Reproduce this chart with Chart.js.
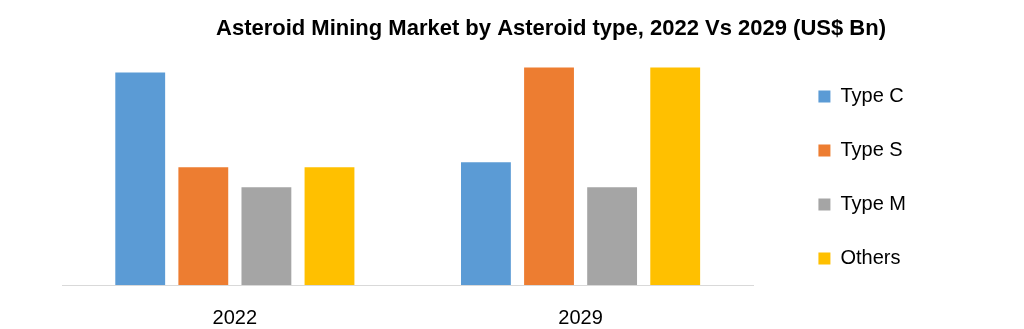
<!DOCTYPE html>
<html>
<head>
<meta charset="utf-8">
<script src="https://cdn.jsdelivr.net/npm/chart.js@4.4.1/dist/chart.umd.min.js"></script>
<style>
  html, body { margin: 0; padding: 0; background: #fff; }
  #wrap { width: 1024px; height: 329px; }
</style>
</head>
<body>
<div id="wrap"><canvas id="chart"></canvas></div>
<script>
// values (relative, US$ Bn)
let years = ['2022', '2029']
let typeC = [21.3, 12.3]
let typeS = [11.8, 21.8]
let typeM = [9.8, 9.8]
let others = [11.8, 21.8]

let font = "'Liberation Sans', sans-serif"

function ds(label, data, color) {
    return {
        label: label,
        data: data,
        backgroundColor: color,
        categoryPercentage: 0.73,
        barPercentage: 0.79
    }
}

// nudge title and legend to where they sit in the original
let nudge = {
    id: 'nudge',
    afterLayout(c) {
        c.titleBlock.left += 124
        c.legend.top += 8
        c.legend.bottom += 8
    }
}

let chart = new Chart(document.getElementById('chart').getContext('2d'), {
    type: 'bar',
    data: {
        labels: years,
        datasets: [
            ds('Type C', typeC, '#5b9bd5'),
            ds('Type S', typeS, '#ed7d31'),
            ds('Type M', typeM, '#a5a5a5'),
            ds('Others', others, '#ffc000')
        ]
    },
    options: {
        responsive: true,
        maintainAspectRatio: false,
        animation: false,
        layout: { padding: { left: 62, right: 108, top: 10, bottom: 0 } },
        scales: {
            x: {
                grid: { display: false, drawTicks: false },
                border: { color: '#d9d9d9' },
                ticks: { color: '#000', padding: 21, font: { family: font, size: 20 } },
                afterFit: s => { s.height = 44 }
            },
            y: {
                // kept invisible, only used as a spacer before the legend
                position: 'right',
                min: 0,
                max: 22,
                grid: { display: false },
                border: { display: false },
                ticks: { display: false },
                afterFit: s => { s.width = 31 }
            }
        },
        plugins: {
            legend: {
                position: 'right',
                align: 'center',
                labels: {
                    color: '#000',
                    boxWidth: 12,
                    boxHeight: 12,
                    padding: 34,
                    font: { family: font, size: 20 }
                }
            },
            title: {
                display: true,
                text: 'Asteroid Mining Market by Asteroid type, 2022 Vs 2029 (US$ Bn)',
                color: '#000',
                font: { family: font, size: 22, weight: 'bold' },
                padding: { top: 6, bottom: 23 }
            },
            tooltip: { enabled: false }
        }
    },
    plugins: [nudge]
})
</script>
</body>
</html>
